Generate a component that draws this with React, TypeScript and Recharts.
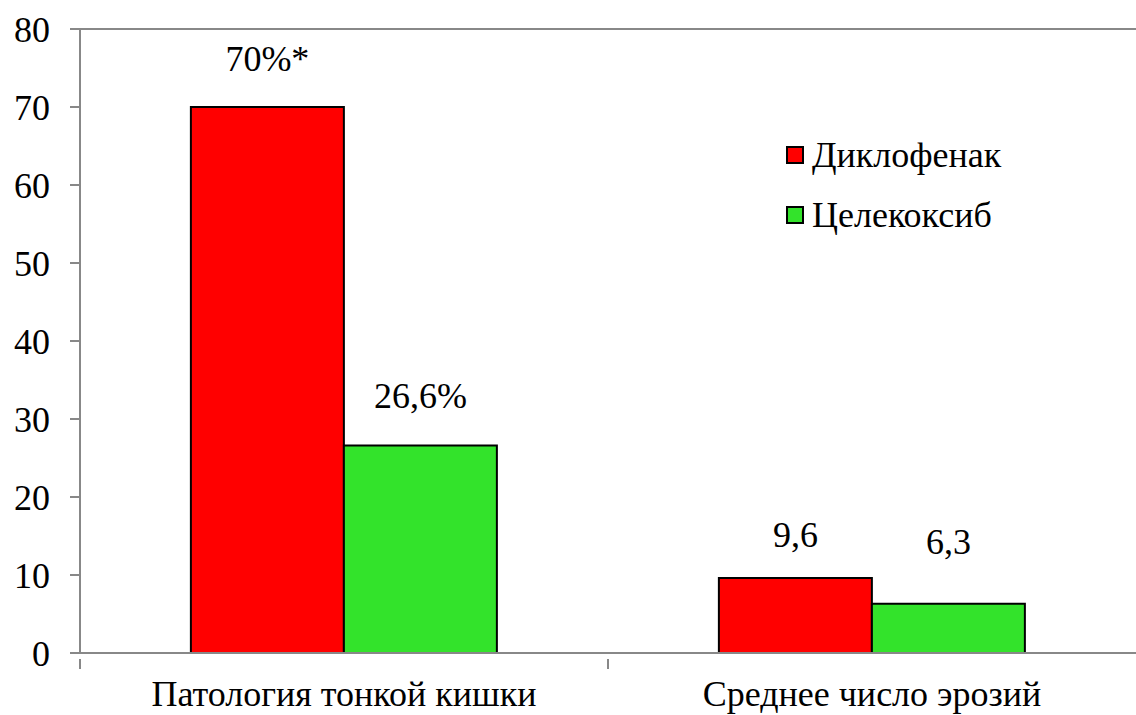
import React from "react";
import { BarChart, Bar, XAxis, YAxis, LabelList, Legend, ReferenceLine } from "recharts";

const categories = ["Патология тонкой кишки", "Среднее число эрозий"];
const diclofenacValues = [70, 9.6];
const celecoxibValues = [26.6, 6.3];
const diclofenacLabels = ["70%*", "9,6"];
const celecoxibLabels = ["26,6%", "6,3"];
const yTicks = [0, 10, 20, 30, 40, 50, 60, 70, 80];

const seriesNames = ["Диклофенак", "Целекоксиб"];
const seriesColors = ["#FF0000", "#33E32B"];

// gap between bar top and its label, per category (labels were placed by hand in the original)
const diclofenacLabelGap = [36, 31];
const celecoxibLabelGap = [38, 50];

const FONT = "Liberation Serif, Times New Roman, Tinos, DejaVu Serif, serif";
const AXIS_GRAY = "#888888";

const data = categories.map((name, i) => ({
  name,
  diclofenac: diclofenacValues[i],
  celecoxib: celecoxibValues[i],
  diclofenacLabel: diclofenacLabels[i],
  celecoxibLabel: celecoxibLabels[i],
}));

// category tick: text centred under the band, tick mark on the band's left edge
function CategoryTick(props: any) {
  const { x, y, payload } = props;
  const half = payload && payload.offset ? payload.offset : 264;
  return (
    <g>
      <line x1={x - half} y1={y - 21} x2={x - half} y2={y - 11} stroke={AXIS_GRAY} strokeWidth={2} />
      <text x={x} y={y} dy="0.71em" textAnchor="middle" style={{ fontFamily: FONT }} fontSize={36} fill="#000">
        {payload.value}
      </text>
    </g>
  );
}

const makeBarLabel = (gaps: number[]) => (props: any) => {
  const { x, y, width, value, index } = props;
  const gap = gaps[index] ?? 36;
  return (
    <text
      x={x + width / 2}
      y={y - gap}
      textAnchor="middle"
      style={{ fontFamily: FONT }}
      fontSize={36}
      fill="#000"
    >
      {value}
    </text>
  );
};

function LegendBox(props: any) {
  const { payload } = props;
  return (
    <div style={{ fontFamily: FONT, fontSize: 36, color: "#000" }}>
      {(payload || []).map((item: any, i: number) => (
        <div key={i} style={{ display: "flex", alignItems: "center", height: 60 }}>
          <span
            style={{
              width: 14,
              height: 14,
              background: item.color,
              border: "2px solid #000",
              marginRight: 8,
              display: "inline-block",
            }}
          />
          <span>{item.value}</span>
        </div>
      ))}
    </div>
  );
}

export default function App() {
  return (
    <div style={{ position: "absolute", left: 0, top: 0, background: "#fff" }}>
      <BarChart
        width={1136}
        height={715}
        data={data}
        margin={{ top: 29, right: 0, bottom: 0, left: 0 }}
        barCategoryGap="21%"
        barGap={0}
      >
        <ReferenceLine y={80} stroke={AXIS_GRAY} strokeWidth={2} />
        <XAxis
          dataKey="name"
          height={62}
          axisLine={{ stroke: AXIS_GRAY, strokeWidth: 2 }}
          tickLine={false}
          tick={<CategoryTick />}
          tickMargin={21}
          interval={0}
        />
        <YAxis
          width={80}
          domain={[0, 80]}
          ticks={yTicks}
          interval={0}
          axisLine={{ stroke: AXIS_GRAY, strokeWidth: 2 }}
          tickLine={{ stroke: AXIS_GRAY, strokeWidth: 2 }}
          tickSize={10}
          tickMargin={20}
          tick={{ style: { fontFamily: FONT }, fontSize: 36, fill: "#000" }}
        />
        <Legend
          verticalAlign="middle"
          align="center"
          layout="vertical"
          content={<LegendBox />}
          wrapperStyle={{ position: "absolute", left: 786, top: 125, width: 300, height: 120 }}
        />
        <Bar
          dataKey="diclofenac"
          name={seriesNames[0]}
          fill={seriesColors[0]}
          stroke="#000"
          strokeWidth={2}
          isAnimationActive={false}
        >
          <LabelList dataKey="diclofenacLabel" content={makeBarLabel(diclofenacLabelGap)} />
        </Bar>
        <Bar
          dataKey="celecoxib"
          name={seriesNames[1]}
          fill={seriesColors[1]}
          stroke="#000"
          strokeWidth={2}
          isAnimationActive={false}
        >
          <LabelList dataKey="celecoxibLabel" content={makeBarLabel(celecoxibLabelGap)} />
        </Bar>
      </BarChart>
    </div>
  );
}
